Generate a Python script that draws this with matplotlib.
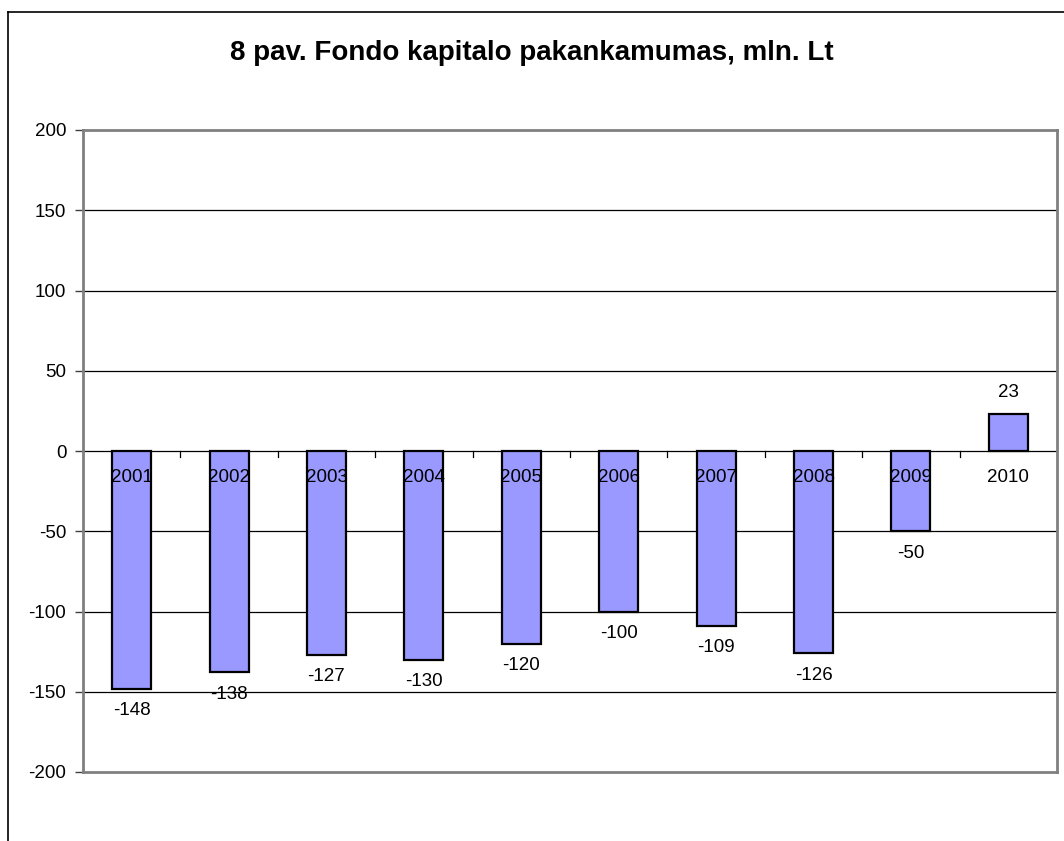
import matplotlib
matplotlib.use("Agg")
import matplotlib.pyplot as plt
from matplotlib.lines import Line2D
import numpy as np

plt.rcParams['font.family'] = ['Liberation Sans', 'DejaVu Sans']

years = ['2001', '2002', '2003', '2004', '2005', '2006', '2007', '2008', '2009', '2010']
values = [-148, -138, -127, -130, -120, -100, -109, -126, -50, 23]
title = '8 pav. Fondo kapitalo pakankamumas, mln. Lt'
yticks = [-200, -150, -100, -50, 0, 50, 100, 150, 200]

W, H = 1064, 841
fig = plt.figure(figsize=(W / 100, H / 100), dpi=100)
ax = fig.add_axes([83 / W, 1 - 772 / H, (1057 - 83) / W, (772 - 130) / H])

x = np.arange(len(years))
ax.bar(x, values, width=0.4, color='#9999FF', edgecolor='black', linewidth=1.6, zorder=3)

ax.set_xlim(-0.5, len(years) - 0.5)
ax.set_ylim(-200, 200)
ax.set_yticks(yticks)
ax.set_yticklabels([str(v) for v in yticks], fontsize=13.5)
ax.tick_params(axis='y', length=6, width=1, color='#404040', pad=6)
ax.set_xticks([])
for y in yticks:
    if y not in (-200, 200):
        ax.axhline(y, color='black', linewidth=0.9, zorder=1)
# category boundary ticks on the zero line
for b in np.arange(0.5, len(years) - 0.5, 1.0):
    ax.plot([b, b], [0, -4], color='black', linewidth=0.9, zorder=2)

for s in ax.spines.values():
    s.set_color('#808080')
    s.set_linewidth(2)

for i, (yr, v) in enumerate(zip(years, values)):
    ax.annotate(yr, (i, 0), xytext=(0, -27), textcoords='offset pixels',
                ha='center', va='center', fontsize=13.5, zorder=4)
    off = -22 if v < 0 else 22
    ax.annotate(str(v), (i, v), xytext=(0, off), textcoords='offset pixels',
                ha='center', va='center', fontsize=13.5, zorder=4)

fig.text(0.5, 1 - 53 / H, title, ha='center', va='center', fontsize=20, fontweight='bold')

# outer chart border (left and top visible)
fig.lines.append(Line2D([8 / W, 8 / W], [0, 1 - 12 / H], transform=fig.transFigure, color='black', linewidth=1.2))
fig.lines.append(Line2D([8 / W, 1.0], [1 - 12 / H, 1 - 12 / H], transform=fig.transFigure, color='black', linewidth=1.2))

fig.savefig('out.png', dpi=100)
